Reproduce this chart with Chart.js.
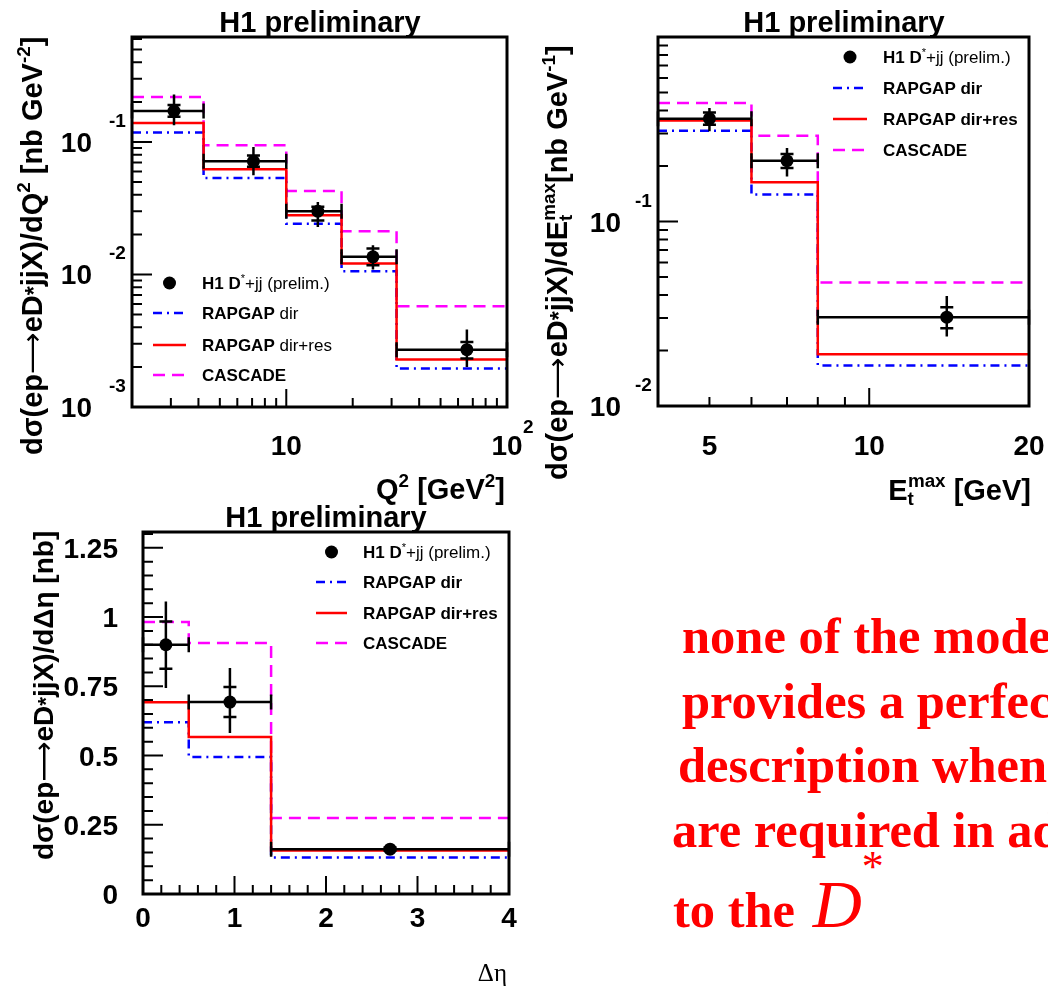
<!DOCTYPE html>
<html lang="en">
<head>
<meta charset="UTF-8">
<script src="https://cdn.jsdelivr.net/npm/chart.js@4.4.0/dist/chart.umd.min.js"></script>
<style>
  body { margin: 0; width: 1048px; height: 989px; overflow: hidden; background: #fff; position: relative;
         font-family: "Liberation Sans", Arial, sans-serif; }
  canvas { position: absolute; }
  .lbl { position: absolute; white-space: nowrap; line-height: 1; font-weight: bold; color: #000; font-size: 29px; }
  .vt { transform: rotate(-90deg); transform-origin: 0 0; }
  .lbl sup { font-size: 0.65em; line-height: 0; vertical-align: 0.65em; }
  .lbl sub { font-size: 0.65em; line-height: 0; vertical-align: -0.25em; }
  .ast { font-size: 0.8em; }
  .arr { font-family: "DejaVu Sans", sans-serif; font-weight: normal; }
  .note { position: absolute; color: #ff0000; font-family: "Liberation Serif", "Times New Roman", serif;
          font-weight: bold; font-size: 50.5px; line-height: 1; white-space: nowrap; }
</style>
<title>H1 D* dijet cross sections</title>
</head>
<body>
<canvas id="c1" width="545" height="500" style="left:0;top:0"></canvas>
<canvas id="c2" width="528" height="500" style="left:520px;top:0"></canvas>
<canvas id="c3" width="520" height="489" style="left:0;top:500px"></canvas>

<!-- titles -->
<div class="lbl" style="left:170px;top:7.5px;width:300px;text-align:center">H1 preliminary</div>
<div class="lbl" style="left:694px;top:7.5px;width:300px;text-align:center">H1 preliminary</div>
<div class="lbl" style="left:176px;top:502.5px;width:300px;text-align:center">H1 preliminary</div>

<!-- axis titles -->
<div class="lbl" style="left:305px;top:474.5px;width:200px;text-align:right">Q<sup>2</sup> [GeV<sup>2</sup>]</div>
<div class="lbl" style="left:781px;top:475.5px;width:250px;text-align:right">E<sub>t</sub><sup style="margin-left:-6px">max</sup> [GeV]</div>
<div class="lbl" style="left:407px;top:960px;width:100px;text-align:right;font-weight:normal;font-family:'Liberation Serif',serif;font-size:25px">&Delta;&eta;</div>

<div class="lbl vt" style="left:17.5px;top:455px">d&sigma;(ep<span class="arr">&#x27F6;</span>eD<span class="ast">*</span>jjX)/dQ<sup>2</sup> [nb GeV<sup>-2</sup>]</div>
<div class="lbl vt" style="left:542.5px;top:480px">d&sigma;(ep<span class="arr">&#x27F6;</span>eD<span class="ast">*</span>jjX)/dE<sub>t</sub><sup style="margin-left:-6px">max</sup>[nb GeV<sup>-1</sup>]</div>
<div class="lbl vt" style="left:29.5px;top:860px;font-size:28px">d&sigma;(ep<span class="arr">&#x27F6;</span>eD<span class="ast">*</span>jjX)/d&Delta;&eta; [nb]</div>

<!-- comment text -->
<div class="note" style="left:682px;top:610.7px">none of the models</div>
<div class="note" style="left:682px;top:675.7px">provides a perfect</div>
<div class="note" style="left:678px;top:739.7px">description when jets</div>
<div class="note" style="left:672px;top:804.7px">are required in addition</div>
<div class="note" style="left:673px;top:869.7px">to the <span style="font-style:italic;font-weight:normal;font-size:68px;margin-left:5px">D</span><span style="font-weight:normal;font-size:44px;position:relative;top:-46px">*</span></div>

<script>
// ---- Q^2 distribution (nb GeV^-2)
const q2Edges = [2, 4.22, 10, 17.8, 31.6, 100];
const q2Centers = [3.1, 7.1, 13.9, 24.7, 65.8];
const q2Data = [0.171, 0.0715, 0.030, 0.0136, 0.00271];
const q2TotHi = [0.228, 0.0917, 0.0353, 0.0166, 0.00384];
const q2TotLo = [0.134, 0.0561, 0.0228, 0.0109, 0.0020];
const q2StatHi = [0.19, 0.079, 0.0325, 0.0157, 0.0031];
const q2StatLo = [0.155, 0.065, 0.0256, 0.01173, 0.00232];
const q2RapDir = [0.118, 0.0535, 0.0242, 0.0106, 0.00195];
const q2RapDirRes = [0.139, 0.0622, 0.028, 0.0121, 0.00228];
const q2Cascade = [0.219, 0.0944, 0.0427, 0.0212, 0.00575];
const q2XLabels = [10, 100];
const q2YLabels = [0.001, 0.01, 0.1];

// ---- Et max distribution (nb GeV^-1)
const etEdges = [4, 6, 8, 20];
const etCenters = [5, 7, 14];
const etData = [0.361, 0.2135, 0.0303];
const etTotHi = [0.412, 0.250, 0.0395];
const etTotLo = [0.308, 0.1754, 0.02377];
const etStatHi = [0.39, 0.232, 0.0343];
const etStatLo = [0.335, 0.195, 0.0264];
const etRapDir = [0.310, 0.140, 0.0166];
const etRapDirRes = [0.353, 0.163, 0.0191];
const etCascade = [0.439, 0.292, 0.0467];
const etXLabels = [5, 10, 20];
const etYLabels = [0.01, 0.1];

// ---- delta eta distribution (nb)
const deEdges = [0, 0.5, 1.4, 4];
const deCenters = [0.25, 0.95, 2.7];
const deData = [0.90, 0.693, 0.162];
const deTotHi = [1.056, 0.816, 0.172];
const deTotLo = [0.744, 0.581, 0.152];
const deStatHi = [0.984, 0.747, 0.168];
const deStatLo = [0.813, 0.639, 0.156];
const deRapDir = [0.62, 0.495, 0.132];
const deRapDirRes = [0.692, 0.567, 0.157];
const deCascade = [0.982, 0.906, 0.274];
const deXLabels = [0, 1, 2, 3, 4];
const deYLabels = [0, 0.25, 0.5, 0.75, 1, 1.25];

const FONT = '"Liberation Sans", Arial, sans-serif';

function stepPoints(edges, vals) {
    const pts = vals.map((v, i) => ({ x: edges[i], y: v }));
    pts.push({ x: edges[edges.length - 1], y: vals[vals.length - 1] });
    return pts;
}

function logTicks(min, max) {
    // minor ticks at 2..9 x 10^k, major at 10^k
    const out = [];
    for (let k = Math.floor(Math.log10(min)); k <= Math.ceil(Math.log10(max)); k++) {
        for (let m = 1; m <= 9; m++) {
            const v = m * Math.pow(10, k);
            if (v > min * 1.0001 && v < max * 0.9999) out.push({ v: v, major: m === 1 });
        }
    }
    return out;
}

function linTicks(min, max, step, majorEvery) {
    const out = [];
    const n = Math.round((max - min) / step);
    for (let i = 1; i < n + 1; i++) {
        const v = min + i * step;
        if (v < max - 1e-9) out.push({ v: v, major: i % majorEvery === 0 });
    }
    return out;
}

function drawRich(ctx, x, y, parts, size) {
    let cx = x;
    for (const p of parts) {
        const s = p.sup ? size * 0.65 : size;
        ctx.font = (p.b ? 'bold ' : '') + s + 'px ' + FONT;
        ctx.fillText(p.t, cx, y - (p.sup ? size * 0.4 : 0));
        cx += ctx.measureText(p.t).width;
    }
}

function decor(spec) {
    return {
        id: 'decor',
        beforeDatasetDraw(chart, args) {
            if (args.index !== 0) return;
            const ctx = chart.ctx, xs = chart.scales.x, ys = chart.scales.y;
            ctx.save();
            ctx.strokeStyle = '#000';
            ctx.lineWidth = 2.5;
            for (let i = 0; i < spec.centers.length; i++) {
                const px = xs.getPixelForValue(spec.centers[i]);
                const py = ys.getPixelForValue(spec.data[i]);
                const xl = xs.getPixelForValue(spec.edges[i]);
                const xr = xs.getPixelForValue(spec.edges[i + 1]);
                ctx.beginPath();
                ctx.moveTo(xl, py); ctx.lineTo(xr, py);
                ctx.moveTo(xl, py - 7.5); ctx.lineTo(xl, py + 7.5);
                ctx.moveTo(xr, py - 7.5); ctx.lineTo(xr, py + 7.5);
                ctx.moveTo(px, ys.getPixelForValue(spec.totLo[i]));
                ctx.lineTo(px, ys.getPixelForValue(spec.totHi[i]));
                for (const s of [spec.statLo[i], spec.statHi[i]]) {
                    const sy = ys.getPixelForValue(s);
                    ctx.moveTo(px - 6.5, sy); ctx.lineTo(px + 6.5, sy);
                }
                ctx.stroke();
            }
            ctx.restore();
        },
        afterDraw(chart) {
            const ctx = chart.ctx, a = chart.chartArea, xs = chart.scales.x, ys = chart.scales.y;
            ctx.save();
            ctx.strokeStyle = '#000';
            ctx.fillStyle = '#000';
            // ticks
            ctx.lineWidth = 2;
            ctx.beginPath();
            for (const t of spec.xTicks) {
                const px = xs.getPixelForValue(t.v);
                ctx.moveTo(px, a.bottom); ctx.lineTo(px, a.bottom - (t.major ? 18 : 9));
            }
            for (const t of spec.yTicks) {
                const py = ys.getPixelForValue(t.v);
                ctx.moveTo(a.left, py); ctx.lineTo(a.left + (t.major ? 20 : 10), py);
            }
            ctx.stroke();
            // frame
            ctx.lineWidth = 3;
            ctx.strokeRect(a.left, a.top, a.right - a.left, a.bottom - a.top);

            // tick labels
            ctx.textBaseline = 'alphabetic';
            for (const l of spec.xLabels) {
                const px = xs.getPixelForValue(l.v);
                ctx.font = 'bold 28px ' + FONT;
                ctx.textAlign = 'center';
                ctx.fillText(l.base, px, a.bottom + spec.xLabelDy);
                if (l.exp) {
                    ctx.font = 'bold 19px ' + FONT;
                    ctx.textAlign = 'left';
                    ctx.fillText(l.exp, px + 16, a.bottom + spec.xLabelDy - 22);
                }
            }
            for (const l of spec.yLabels) {
                const py = ys.getPixelForValue(l.v);
                ctx.font = 'bold 28px ' + FONT;
                ctx.textAlign = 'right';
                ctx.fillText(l.base, a.left - spec.yLabelDx, py + 10);
                if (l.exp) {
                    ctx.font = 'bold 19px ' + FONT;
                    ctx.textAlign = 'left';
                    ctx.fillText(l.exp, a.left - 23, py - 15);
                }
            }

            // legend
            const lg = spec.legend;
            ctx.textAlign = 'left';
            ctx.beginPath();
            ctx.arc((lg.x0 + lg.x1) / 2, lg.rows[0], 6.5, 0, Math.PI * 2);
            ctx.fill();
            const styles = [
                { c: '#0000ff', d: [9, 5, 2, 5] },
                { c: '#ff0000', d: [] },
                { c: '#ff00ff', d: [12, 7] }
            ];
            styles.forEach((s, i) => {
                ctx.strokeStyle = s.c;
                ctx.lineWidth = 2.5;
                ctx.setLineDash(s.d);
                ctx.beginPath();
                ctx.moveTo(lg.x0, lg.rows[i + 1]); ctx.lineTo(lg.x1, lg.rows[i + 1]);
                ctx.stroke();
            });
            ctx.setLineDash([]);
            ctx.fillStyle = '#000';
            const dirBold = lg.dirBold;
            const texts = [
                [{ t: 'H1 D', b: true }, { t: '*', sup: true }, { t: '+jj (prelim.)' }],
                [{ t: 'RAPGAP', b: true }, { t: ' dir', b: dirBold }],
                [{ t: 'RAPGAP', b: true }, { t: ' dir+res', b: dirBold }],
                [{ t: 'CASCADE', b: true }]
            ];
            texts.forEach((parts, i) => drawRich(ctx, lg.xt, lg.rows[i] + 6, parts, 17));
            ctx.restore();
        }
    };
}

function makeChart(id, spec) {
    const datasets = [
        { label: 'H1 D*+jj (prelim.)',
          data: spec.centers.map((c, i) => ({ x: c, y: spec.data[i] })),
          showLine: false, pointRadius: 6.5, pointBackgroundColor: '#000', pointBorderWidth: 0 },
        { label: 'RAPGAP dir+res', data: stepPoints(spec.edges, spec.dirRes), stepped: true,
          borderColor: '#ff0000', borderWidth: 2.5, pointRadius: 0, fill: false },
        { label: 'RAPGAP dir', data: stepPoints(spec.edges, spec.dir), stepped: true,
          borderColor: '#0000ff', borderWidth: 2.5, borderDash: [9, 5, 2, 5], pointRadius: 0, fill: false },
        { label: 'CASCADE', data: stepPoints(spec.edges, spec.cascade), stepped: true,
          borderColor: '#ff00ff', borderWidth: 2.5, borderDash: [12, 7], pointRadius: 0, fill: false }
    ];
    return new Chart(document.getElementById(id), {
        type: 'line',
        data: { datasets: datasets },
        options: {
            responsive: false,
            animation: false,
            devicePixelRatio: 1,
            layout: { padding: spec.pad },
            scales: {
                x: { type: spec.xType, min: spec.xMin, max: spec.xMax, display: false },
                y: { type: spec.yType, min: spec.yMin, max: spec.yMax, display: false }
            },
            plugins: { legend: { display: false }, tooltip: { enabled: false } }
        },
        plugins: [decor(spec)]
    });
}

function powLabel(v) {
    const k = Math.round(Math.log10(v));
    return { v: v, base: '10', exp: k === 1 ? '' : String(k) };
}

makeChart('c1', {
    edges: q2Edges, centers: q2Centers, data: q2Data,
    totHi: q2TotHi, totLo: q2TotLo, statHi: q2StatHi, statLo: q2StatLo,
    dir: q2RapDir, dirRes: q2RapDirRes, cascade: q2Cascade,
    pad: { left: 132, top: 37, right: 38, bottom: 93 },
    xType: 'logarithmic', xMin: 2, xMax: 100,
    yType: 'logarithmic', yMin: 0.001, yMax: 0.62,
    xTicks: logTicks(2, 100), yTicks: logTicks(0.001, 0.62),
    xLabels: q2XLabels.map(powLabel), yLabels: q2YLabels.map(powLabel),
    xLabelDy: 48, yLabelDx: 40,
    legend: { x0: 153, x1: 186, xt: 202, rows: [283, 313, 345, 375], dirBold: false }
});

makeChart('c2', {
    edges: etEdges, centers: etCenters, data: etData,
    totHi: etTotHi, totLo: etTotLo, statHi: etStatHi, statLo: etStatLo,
    dir: etRapDir, dirRes: etRapDirRes, cascade: etCascade,
    pad: { left: 138, top: 37, right: 19, bottom: 94 },
    xType: 'logarithmic', xMin: 4, xMax: 20,
    yType: 'logarithmic', yMin: 0.01, yMax: 1,
    xTicks: logTicks(4, 20).filter(t => t.v <= 10), yTicks: logTicks(0.01, 1),
    xLabels: etXLabels.map(v => ({ v: v, base: String(v) })),
    yLabels: etYLabels.map(powLabel),
    xLabelDy: 49, yLabelDx: 37,
    legend: { x0: 313, x1: 347, xt: 363, rows: [57, 88, 119, 150], dirBold: true }
});

makeChart('c3', {
    edges: deEdges, centers: deCenters, data: deData,
    totHi: deTotHi, totLo: deTotLo, statHi: deStatHi, statLo: deStatLo,
    dir: deRapDir, dirRes: deRapDirRes, cascade: deCascade,
    pad: { left: 143, top: 32, right: 11, bottom: 95 },
    xType: 'linear', xMin: 0, xMax: 4,
    yType: 'linear', yMin: 0, yMax: 1.307,
    xTicks: linTicks(0, 4, 0.2, 5), yTicks: linTicks(0, 1.307, 0.05, 5),
    xLabels: deXLabels.map(v => ({ v: v, base: String(v) })),
    yLabels: deYLabels.map(v => ({ v: v, base: String(v) })),
    xLabelDy: 33, yLabelDx: 25,
    legend: { x0: 316, x1: 347, xt: 363, rows: [52, 82, 113, 143], dirBold: true }
});
</script>
</body>
</html>
